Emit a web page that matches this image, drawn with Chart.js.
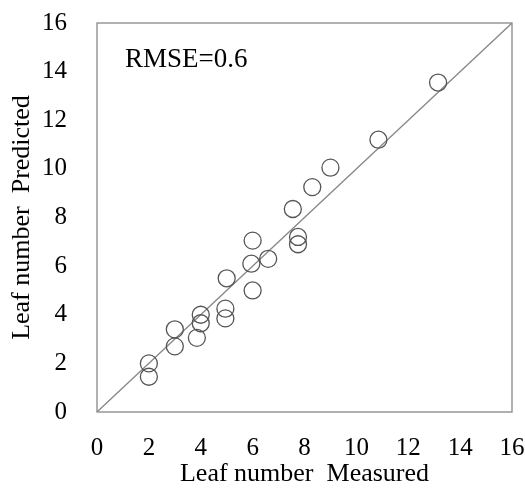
<!DOCTYPE html>
<html>
<head>
<meta charset="utf-8">
<script src="https://cdn.jsdelivr.net/npm/chart.js@4"></script>
<style>
  html, body { margin: 0; padding: 0; background: #fff; }
  #wrap { width: 525px; height: 490px; }
</style>
</head>
<body>
<div id="wrap"><canvas id="chart1"></canvas></div>
<script>
// measured vs predicted leaf number
const measured = [2.0, 2.0, 3.0, 3.0, 3.85, 4.0, 4.0, 4.95, 4.95, 5.0, 6.0, 5.95, 6.0, 6.6, 7.55, 7.75, 7.75, 8.3, 9.0, 10.85, 13.15];
const predicted = [2.0, 1.45, 3.4, 2.7, 3.05, 4.0, 3.65, 4.25, 3.85, 5.5, 7.05, 6.1, 5.0, 6.3, 8.35, 7.2, 6.9, 9.25, 10.05, 11.2, 13.55];
const oneToOne = [0, 16];
const tickVals = [0, 2, 4, 6, 8, 10, 12, 14, 16];
const rmseLabel = 'RMSE=0.6';

const serif = "'Liberation Serif', 'Times New Roman', serif";

const points = measured.map((x, i) => ({ x: x, y: predicted[i] }));
const line = oneToOne.map((v) => ({ x: v, y: v }));

// RMSE note + box round the plot area
const extras = {
  id: 'extras',
  afterDatasetsDraw(chart) {
    const { ctx, scales, chartArea } = chart;
    ctx.save();
    ctx.strokeStyle = '#888';
    ctx.lineWidth = 1.3;
    ctx.strokeRect(chartArea.left, chartArea.top, chartArea.right - chartArea.left, chartArea.bottom - chartArea.top);
    ctx.font = '27px ' + serif;
    ctx.fillStyle = '#000';
    ctx.textAlign = 'left';
    ctx.textBaseline = 'middle';
    ctx.fillText(rmseLabel, scales.x.getPixelForValue(1.08), scales.y.getPixelForValue(14.5));
    ctx.restore();
  },
};

const chartconfig1 = {
  type: 'scatter',
  data: {
    datasets: [
      {
        data: line,
        showLine: true,
        borderColor: '#888',
        borderWidth: 1.3,
        pointRadius: 0,
        order: 2,
      },
      {
        data: points,
        pointRadius: 8.5,
        pointBorderWidth: 1.3,
        pointBorderColor: '#555',
        pointBackgroundColor: 'rgba(0,0,0,0)',
        order: 1,
      },
    ],
  },
  options: {
    responsive: true,
    maintainAspectRatio: false,
    animation: false,
    layout: { autoPadding: false, padding: { left: 0, right: 13, top: 23, bottom: 0 } },
    plugins: {
      legend: { display: false },
      tooltip: { enabled: false },
    },
    scales: {
      x: {
        type: 'linear',
        min: 0,
        max: 16,
        afterBuildTicks: (axis) => { axis.ticks = tickVals.map((v) => ({ value: v })); },
        afterFit: (axis) => { axis.height = 78; axis.paddingLeft = 0; axis.paddingRight = 0; },
        grid: { display: false, drawTicks: false },
        border: { display: false },
        ticks: { color: '#000', padding: 21, maxRotation: 0, font: { family: serif, size: 25 } },
        title: {
          display: true,
          text: 'Leaf number  Measured',
          color: '#000',
          padding: { top: 0, bottom: 0 },
          font: { family: serif, size: 26 },
        },
      },
      y: {
        type: 'linear',
        min: 0,
        max: 16,
        afterBuildTicks: (axis) => { axis.ticks = tickVals.map((v) => ({ value: v })); },
        afterFit: (axis) => { axis.width = 97; axis.paddingTop = 0; axis.paddingBottom = 0; },
        grid: { display: false, drawTicks: false },
        border: { display: false },
        ticks: { color: '#000', padding: 30, font: { family: serif, size: 25 } },
        title: {
          display: true,
          text: 'Leaf number  Predicted',
          color: '#000',
          padding: { top: 7, bottom: 0 },
          font: { family: serif, size: 26 },
        },
      },
    },
  },
  plugins: [extras],
};

const chart1 = new Chart('chart1', chartconfig1);
</script>
</body>
</html>
